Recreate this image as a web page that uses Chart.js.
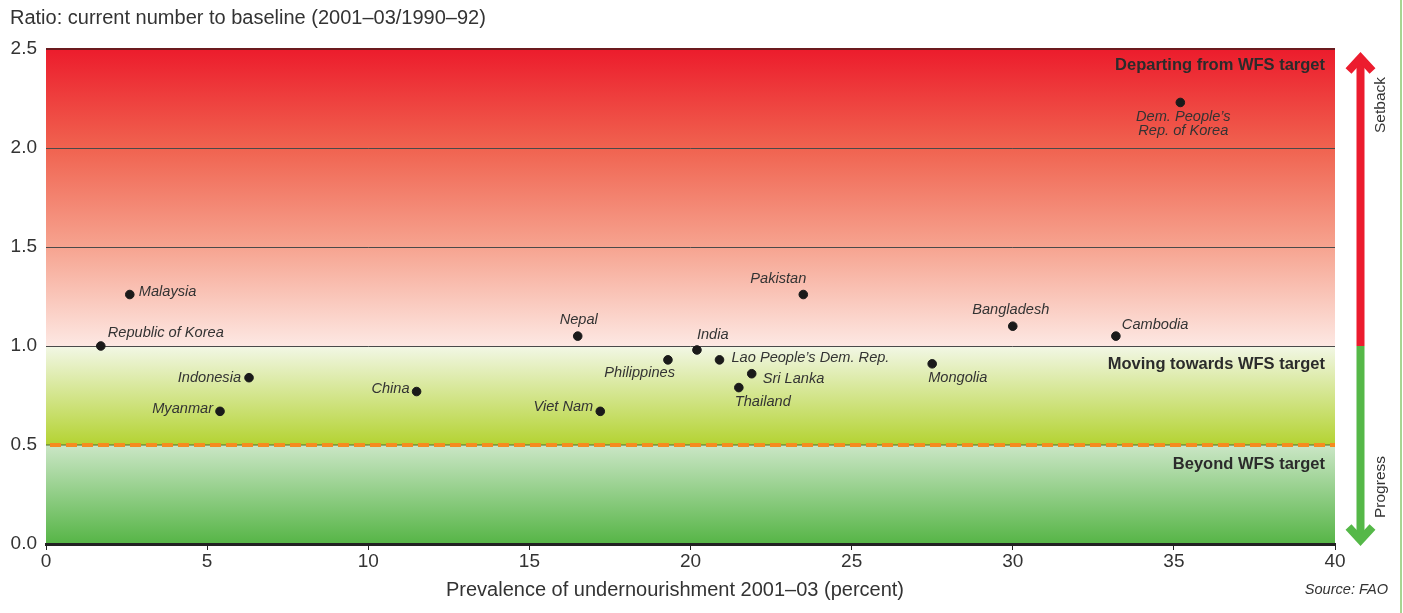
<!DOCTYPE html>
<html>
<head>
<meta charset="utf-8">
<script src="https://cdn.jsdelivr.net/npm/chart.js@4.4.1/dist/chart.umd.min.js"></script>
<style>
  html, body { margin: 0; padding: 0; background: #fff; }
  #wrap { width: 1403px; height: 613px; position: relative; }
</style>
</head>
<body>
<div id="wrap"><canvas id="chart" width="1403" height="613"></canvas></div>
<script>
// data
var countries = ['Republic of Korea', 'Malaysia', 'Indonesia', 'Myanmar', 'China', 'Nepal', 'Viet Nam',
    'Philippines', 'India', "Lao People\u2019s Dem. Rep.", 'Sri Lanka', 'Thailand', 'Pakistan',
    'Bangladesh', 'Cambodia', 'Mongolia', "Dem. People\u2019s\nRep. of Korea"];
var prevalence = [1.7, 2.6, 6.3, 5.4, 11.5, 16.5, 17.2, 19.3, 20.2, 20.9, 21.9, 21.5, 23.5, 30.0, 33.2, 27.5, 35.2];
var ratio = [1.00, 1.26, 0.84, 0.67, 0.77, 1.05, 0.67, 0.93, 0.98, 0.93, 0.86, 0.79, 1.26, 1.10, 1.05, 0.91, 2.23];
var xTicks = [0, 5, 10, 15, 20, 25, 30, 35, 40];
var yTicks = [0.0, 0.5, 1.0, 1.5, 2.0, 2.5];
var zoneNames = ['Departing from WFS target', 'Moving towards WFS target', 'Beyond WFS target'];

// where each country name sits next to its dot: [dx, dy, align]
var labelPlace = [[7, -13, 'left'], [9, -3, 'left'], [-8, 0, 'right'], [-7, -2, 'right'], [-7, -3, 'right'],
    [1, -16, 'center'], [-7, -4, 'right'], [7, 13, 'right'], [0, -15, 'left'], [12, -2, 'left'],
    [11, 5, 'left'], [-4, 14, 'left'], [3, -16, 'right'], [-2, -16, 'center'], [6, -11, 'left'],
    [-4, 14, 'left'], [3, 14, 'center']];

var FONT = '"Liberation Sans", Arial, sans-serif';
var RED = '#ec1c2e';
var GREEN = '#55b848';

var points = [];
for (var i = 0; i < prevalence.length; i++) {
    points.push({x: prevalence[i], y: ratio[i]});
}

var bandsPlugin = {
    id: 'bands',
    beforeDraw: function(chart) {
        var ctx = chart.ctx;
        var a = chart.chartArea;
        var ys = chart.scales.y;
        var y25 = ys.getPixelForValue(2.5), y10 = ys.getPixelForValue(1.0);
        var y05 = ys.getPixelForValue(0.5), y00 = ys.getPixelForValue(0);

        var g = ctx.createLinearGradient(0, y25, 0, y10);
        g.addColorStop(0, '#ec1c2c');
        g.addColorStop(0.33, '#f0624f');
        g.addColorStop(0.66, '#f6a28e');
        g.addColorStop(1, '#fde8e3');
        ctx.fillStyle = g;
        ctx.fillRect(a.left, y25, a.right - a.left, y10 - y25);

        g = ctx.createLinearGradient(0, y10, 0, y05);
        g.addColorStop(0, '#f2f7e6');
        g.addColorStop(1, '#b4d332');
        ctx.fillStyle = g;
        ctx.fillRect(a.left, y10, a.right - a.left, y05 - y10);

        g = ctx.createLinearGradient(0, y05, 0, y00);
        g.addColorStop(0, '#cbe6c6');
        g.addColorStop(1, '#56b546');
        ctx.fillStyle = g;
        ctx.fillRect(a.left, y05, a.right - a.left, y00 - y05);
    },
    beforeDatasetsDraw: function(chart) {
        var ctx = chart.ctx;
        var a = chart.chartArea;
        var ys = chart.scales.y;
        ctx.save();
        // grid lines
        [1.0, 1.5, 2.0].forEach(function(v) {
            var y = Math.round(ys.getPixelForValue(v)) + 0.5;
            ctx.strokeStyle = '#4a4a4a';
            ctx.lineWidth = 1;
            ctx.beginPath();
            ctx.moveTo(a.left, y);
            ctx.lineTo(a.right, y);
            ctx.stroke();
        });
        // top line
        var yt = ys.getPixelForValue(2.5);
        ctx.strokeStyle = '#6b1a1e';
        ctx.lineWidth = 2;
        ctx.beginPath();
        ctx.moveTo(a.left, yt);
        ctx.lineTo(a.right, yt);
        ctx.stroke();
        // target line
        var yh = ys.getPixelForValue(0.5);
        ctx.strokeStyle = '#4d6a2c';
        ctx.lineWidth = 1;
        ctx.beginPath();
        ctx.moveTo(a.left, yh);
        ctx.lineTo(a.right, yh);
        ctx.stroke();
        ctx.strokeStyle = '#f68b1f';
        ctx.lineWidth = 4;
        ctx.setLineDash([11, 5]);
        ctx.beginPath();
        ctx.moveTo(a.left + 4, yh);
        ctx.lineTo(a.right, yh);
        ctx.stroke();
        ctx.restore();
    }
};

var textPlugin = {
    id: 'texts',
    afterDatasetsDraw: function(chart) {
        var ctx = chart.ctx;
        var meta = chart.getDatasetMeta(0);
        ctx.save();
        ctx.font = 'italic 14.6px ' + FONT;
        ctx.fillStyle = '#333';
        ctx.textBaseline = 'middle';
        for (var i = 0; i < countries.length; i++) {
            var p = meta.data[i];
            var pl = labelPlace[i];
            ctx.textAlign = pl[2];
            var lines = countries[i].split('\n');
            for (var j = 0; j < lines.length; j++) {
                ctx.fillText(lines[j], p.x + pl[0], p.y + pl[1] + j * 14);
            }
        }
        // zone names
        var a = chart.chartArea;
        var ys = chart.scales.y;
        ctx.font = 'bold 16.5px ' + FONT;
        ctx.fillStyle = '#2b2b2b';
        ctx.textAlign = 'right';
        ctx.fillText(zoneNames[0], a.right - 10, ys.getPixelForValue(2.5) + 16);
        ctx.fillText(zoneNames[1], a.right - 10, ys.getPixelForValue(1.0) + 18);
        ctx.fillText(zoneNames[2], a.right - 10, ys.getPixelForValue(0.5) + 19);
        ctx.restore();
    },
    afterDraw: function(chart) {
        var ctx = chart.ctx;
        var a = chart.chartArea;
        var ys = chart.scales.y;
        ctx.save();
        ctx.fillStyle = '#333';
        ctx.textBaseline = 'middle';
        ctx.font = '20px ' + FONT;
        ctx.textAlign = 'left';
        ctx.fillText('Ratio: current number to baseline (2001\u201303/1990\u201392)', 10, 18);
        ctx.textAlign = 'center';
        ctx.fillText('Prevalence of undernourishment 2001\u201303 (percent)', 675, 590);
        ctx.font = 'italic 14.6px ' + FONT;
        ctx.textAlign = 'right';
        ctx.fillText('Source: FAO', 1388, 590);

        // setback / progress arrow
        var cx = 1360.5;
        var yMid = ys.getPixelForValue(1.0);
        ctx.lineWidth = 8;
        ctx.lineJoin = 'miter';
        ctx.lineCap = 'butt';
        ctx.strokeStyle = RED;
        ctx.beginPath();
        ctx.moveTo(cx, 57);
        ctx.lineTo(cx, yMid);
        ctx.stroke();
        ctx.beginPath();
        ctx.moveTo(cx - 12, 71);
        ctx.lineTo(cx, 58);
        ctx.lineTo(cx + 12, 71);
        ctx.stroke();
        ctx.strokeStyle = GREEN;
        ctx.beginPath();
        ctx.moveTo(cx, yMid);
        ctx.lineTo(cx, 541);
        ctx.stroke();
        ctx.beginPath();
        ctx.moveTo(cx - 12, 527);
        ctx.lineTo(cx, 540);
        ctx.lineTo(cx + 12, 527);
        ctx.stroke();

        ctx.fillStyle = '#333';
        ctx.font = '15.5px ' + FONT;
        ctx.textAlign = 'center';
        ctx.save();
        ctx.translate(1381, 105);
        ctx.rotate(-Math.PI / 2);
        ctx.fillText('Setback', 0, 0);
        ctx.restore();
        ctx.save();
        ctx.translate(1381, 487);
        ctx.rotate(-Math.PI / 2);
        ctx.fillText('Progress', 0, 0);
        ctx.restore();

        // frame line at the right edge
        ctx.strokeStyle = '#a6d591';
        ctx.lineWidth = 2;
        ctx.beginPath();
        ctx.moveTo(1401, 0);
        ctx.lineTo(1401, 613);
        ctx.stroke();
        ctx.restore();
    }
};

var ctx = document.getElementById('chart').getContext('2d');
var chart = new Chart(ctx, {
    type: 'scatter',
    data: {
        datasets: [{
            data: points,
            backgroundColor: '#1a1a1a',
            borderColor: '#1a1a1a',
            pointRadius: 4.3,
            pointHoverRadius: 4.3
        }]
    },
    options: {
        responsive: false,
        animation: false,
        devicePixelRatio: 1,
        layout: { padding: { top: 49, right: 68, left: 0, bottom: 0 } },
        plugins: { legend: { display: false }, tooltip: { enabled: false } },
        scales: {
            x: {
                type: 'linear',
                min: 0,
                max: 40,
                afterBuildTicks: function(scale) {
                    scale.ticks = xTicks.map(function(v) { return {value: v}; });
                },
                afterFit: function(scale) { scale.height = 69; },
                ticks: { color: '#333', font: { family: FONT, size: 19 }, padding: 0, maxRotation: 0 },
                grid: { drawOnChartArea: false, drawTicks: true, tickLength: 6, color: '#222', lineWidth: 1 },
                border: { display: true, color: '#222', width: 3 }
            },
            y: {
                type: 'linear',
                min: 0,
                max: 2.5,
                afterBuildTicks: function(scale) {
                    scale.ticks = yTicks.map(function(v) { return {value: v}; });
                },
                afterFit: function(scale) { scale.width = 46; },
                ticks: {
                    color: '#333', font: { family: FONT, size: 19 }, padding: 9,
                    callback: function(v) { return v.toFixed(1); }
                },
                grid: { display: false, drawTicks: false },
                border: { display: false }
            }
        }
    },
    plugins: [bandsPlugin, textPlugin]
});
</script>
</body>
</html>
